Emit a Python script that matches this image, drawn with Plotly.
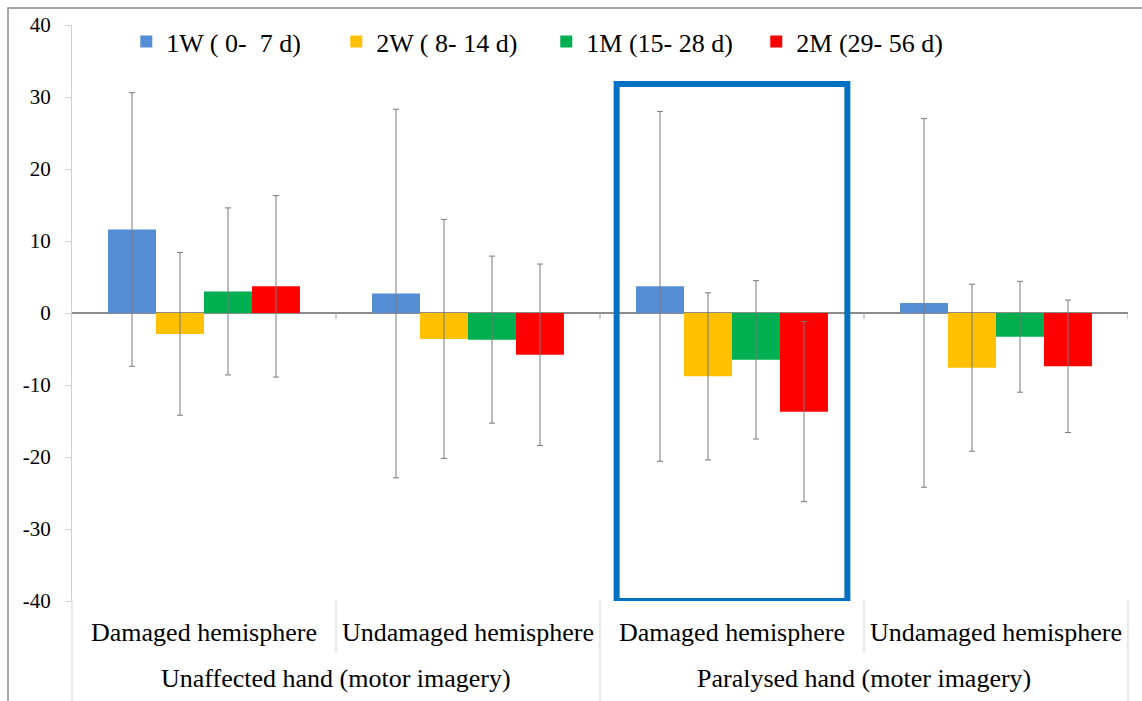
import plotly.graph_objects as go

# ---- data ----
inner_labels = ["Damaged hemisphere", "Undamaged hemisphere", "Damaged hemisphere", "Undamaged hemisphere"]
outer_labels = ["Unaffected hand (motor imagery)", "Paralysed hand (moter imagery)"]
series_names = ["1W (\u00a00-\u00a0\u00a07 d)", "2W (\u00a08- 14 d)", "1M (15- 28 d)", "2M (29- 56 d)"]
series_colors = ["#558ED5", "#FFC000", "#00B050", "#FF0000"]

w1_vals = [11.6, 2.7, 3.7, 1.4]
w1_err = [19.0, 25.6, 24.3, 25.6]
w2_vals = [-2.9, -3.6, -8.8, -7.6]
w2_err = [11.3, 16.6, 11.6, 11.6]
m1_vals = [3.0, -3.7, -6.5, -3.3]
m1_err = [11.6, 11.6, 11.0, 7.7]
m2_vals = [3.7, -5.8, -13.7, -7.4]
m2_err = [12.6, 12.6, 12.5, 9.2]

y_ticks = [-40, -30, -20, -10, 0, 10, 20, 30, 40]
y_tick_text = ["-40", "-30", "-20", "-10", "0", "10", "20", "30", "40"]

FONT = "Liberation Serif, Times New Roman, serif"
xpos = list(range(len(inner_labels)))

fig = go.Figure()
for name, col, vals, err in zip(series_names, series_colors,
                                [w1_vals, w2_vals, m1_vals, m2_vals],
                                [w1_err, w2_err, m1_err, m2_err]):
    fig.add_trace(go.Bar(
        x=xpos, y=vals, name=name,
        marker=dict(color=col, line=dict(width=0)),
        error_y=dict(type="data", array=err, visible=True,
                     color="#7A7A7A", thickness=1, width=3),
    ))

shapes = []
# outer dividers (full height of label area) and inner dividers
for xp in [0.0, 0.5, 1.0]:
    shapes.append(dict(type="line", xref="paper", yref="paper", x0=xp, x1=xp, y0=0, y1=-0.19,
                       line=dict(color="#D0D0D0", width=1)))
for xp in [0.25, 0.75]:
    shapes.append(dict(type="line", xref="paper", yref="paper", x0=xp, x1=xp, y0=0, y1=-0.088,
                       line=dict(color="#D0D0D0", width=1)))
# small tick marks on zero line at category boundaries
for xb in [0.5, 1.5, 2.5, 3.5]:
    shapes.append(dict(type="line", xref="x", yref="y", x0=xb, x1=xb, y0=0, y1=-0.85,
                       line=dict(color="#A0A0A0", width=1)))
# highlight box
shapes.append(dict(type="rect", xref="x", yref="y", x0=1.563, x1=2.437, y0=-40, y1=31.8,
                   line=dict(color="#0070C0", width=6), fillcolor="rgba(0,0,0,0)"))
# chart border
shapes.append(dict(type="rect", xref="paper", yref="paper", x0=-0.0606, x1=1.05, y0=-0.3, y1=1.0295,
                   line=dict(color="#8C8C8C", width=1.5), fillcolor="rgba(0,0,0,0)"))

annotations = []
for i, lab in enumerate(outer_labels):
    annotations.append(dict(text=lab, x=0.5 + 2 * i, xref="x", y=-0.1337, yref="paper",
                            showarrow=False, xanchor="center", yanchor="middle",
                            font=dict(family=FONT, size=26, color="#000000")))

fig.update_layout(
    width=1142, height=701,
    margin=dict(l=72, r=14, t=25, b=100, autoexpand=False),
    paper_bgcolor="white", plot_bgcolor="white",
    barmode="group", bargap=0.273, bargroupgap=0,
    font=dict(family=FONT, color="#000000"),
    shapes=shapes, annotations=annotations,
    legend=dict(orientation="h", x=0.0514, y=0.971, xanchor="left", yanchor="middle",
                font=dict(family=FONT, size=26, color="#000000"),
                entrywidth=165, bgcolor="rgba(0,0,0,0)", traceorder="normal"),
    xaxis=dict(range=[-0.5, 3.5], tickvals=xpos, ticktext=inner_labels,
               showline=False, showgrid=False, zeroline=False, ticks="",
               ticklabelstandoff=13, automargin=False,
               tickfont=dict(family=FONT, size=26, color="#000000")),
    yaxis=dict(range=[-40, 40], tickvals=y_ticks, ticktext=y_tick_text, showgrid=False,
               showline=True, linecolor="#D0D0D0", linewidth=1,
               ticks="outside", ticklen=6, tickcolor="#D0D0D0",
               zeroline=True, zerolinecolor="#8C8C8C", zerolinewidth=1.5,
               tickfont=dict(family=FONT, size=21, color="#000000"),
               ticklabelstandoff=10, automargin=False),
)

fig.write_html("out.html", config={"displayModeBar": False},
               post_script="document.body.style.margin='0';")
